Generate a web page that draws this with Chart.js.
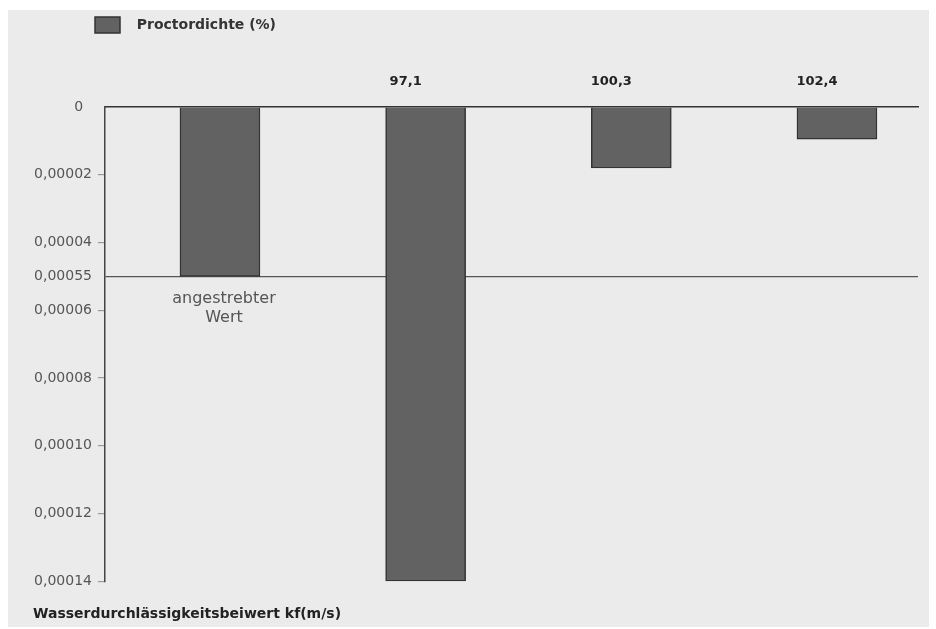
<!DOCTYPE html>
<html>
<head>
<meta charset="utf-8">
<script src="https://cdn.jsdelivr.net/npm/chart.js@4"></script>
<style>
  body { margin: 0; background: #fff; }
  #wrap { position: absolute; left: 8px; top: 10px; width: 921px; height: 617px; background: #ebebeb; }
</style>
</head>
<body>
<div id="wrap"><canvas id="kf_chart"></canvas></div>
<script>
// Proctordichte-Kategorien (die erste ist der Zielwert ohne Beschriftung oben)
const categories = ['', '97,1', '100,3', '102,4'];
const kfValues = [0.00005, 0.00014, 0.000018, 0.0000095];
const yTicks = [0, 0.00002, 0.00004, 0.00005, 0.00006, 0.00008, 0.00010, 0.00012, 0.00014];
const targetValue = 0.00005;
const targetLabel = ['angestrebter', 'Wert'];

Chart.defaults.font.family = 'DejaVu Sans';

// Beschriftung unter dem Balken "angestrebter Wert" + Legende etwas nach rechts
const targetText = {
    id: 'targetText',
    afterLayout(chart) {
        chart.legend.left = 80;
    },
    afterDatasetsDraw(chart) {
        const bar = chart.getDatasetMeta(0).data[0];
        const ctx = chart.ctx;
        ctx.save();
        ctx.font = '16px "DejaVu Sans"';
        ctx.fillStyle = '#555';
        ctx.textAlign = 'center';
        ctx.textBaseline = 'middle';
        ctx.fillText(targetLabel[0], bar.x + 4, bar.y + 22);
        ctx.fillText(targetLabel[1], bar.x + 4, bar.y + 41);
        ctx.restore();
    }
};

new Chart(document.getElementById('kf_chart'), {
    type: 'bar',
    data: {
        datasets: [{
            label: '  Proctordichte (%)',
            data: kfValues.map((v, i) => ({ x: i + 1, y: v })),
            backgroundColor: '#626262',
            borderColor: '#333',
            borderWidth: 1.5,
            barThickness: 80
        }]
    },
    options: {
        responsive: true,
        maintainAspectRatio: false,
        animation: false,
        layout: { padding: { left: 25, right: 11, top: 0, bottom: 0 } },
        plugins: {
            legend: {
                position: 'top',
                align: 'start',
                labels: {
                    boxWidth: 25,
                    boxHeight: 16,
                    padding: 7,
                    color: '#333',
                    font: { size: 14, weight: 'bold' }
                }
            },
            title: {
                display: true,
                position: 'bottom',
                align: 'start',
                text: 'Wasserdurchlässigkeitsbeiwert kf(m/s)',
                color: '#222',
                font: { size: 14, weight: 'bold' },
                padding: { top: 25, bottom: 4 }
            },
            tooltip: { enabled: false }
        },
        scales: {
            x: {
                type: 'linear',
                position: 'top',
                offset: false,
                min: 0.441,
                max: 4.394,
                afterBuildTicks: scale => { scale.ticks = [1, 2, 3, 4].map(v => ({ value: v })); },
                afterFit: scale => { scale.height = 64; },
                ticks: {
                    callback: v => categories[v - 1],
                    color: '#222',
                    font: { size: 13, weight: 'bold' },
                    padding: 18,
                    labelOffset: -20,
                    maxRotation: 0
                },
                grid: { drawOnChartArea: false, drawTicks: false },
                border: { color: '#333', width: 1.5 }
            },
            y: {
                reverse: true,
                min: 0,
                max: 0.00014,
                afterBuildTicks: scale => { scale.ticks = yTicks.map(v => ({ value: v })); },
                afterFit: scale => { scale.width = 72; },
                ticks: {
                    callback: v => {
                        if (v === 0) return '0  ';
                        if (v === targetValue) return '0,00055';
                        return v.toFixed(5).replace('.', ',');
                    },
                    color: '#555',
                    font: { size: 14 },
                    padding: 6
                },
                grid: {
                    tickLength: 7,
                    color: ctx => ctx.tick && ctx.tick.value === targetValue ? '#555' : 'transparent',
                    tickColor: ctx => ctx.tick && (ctx.tick.value === 0 || ctx.tick.value === targetValue) ? 'transparent' : '#999',
                    lineWidth: 1.2
                },
                border: { color: '#444', width: 1.5 }
            }
        }
    },
    plugins: [targetText]
});
</script>
</body>
</html>
